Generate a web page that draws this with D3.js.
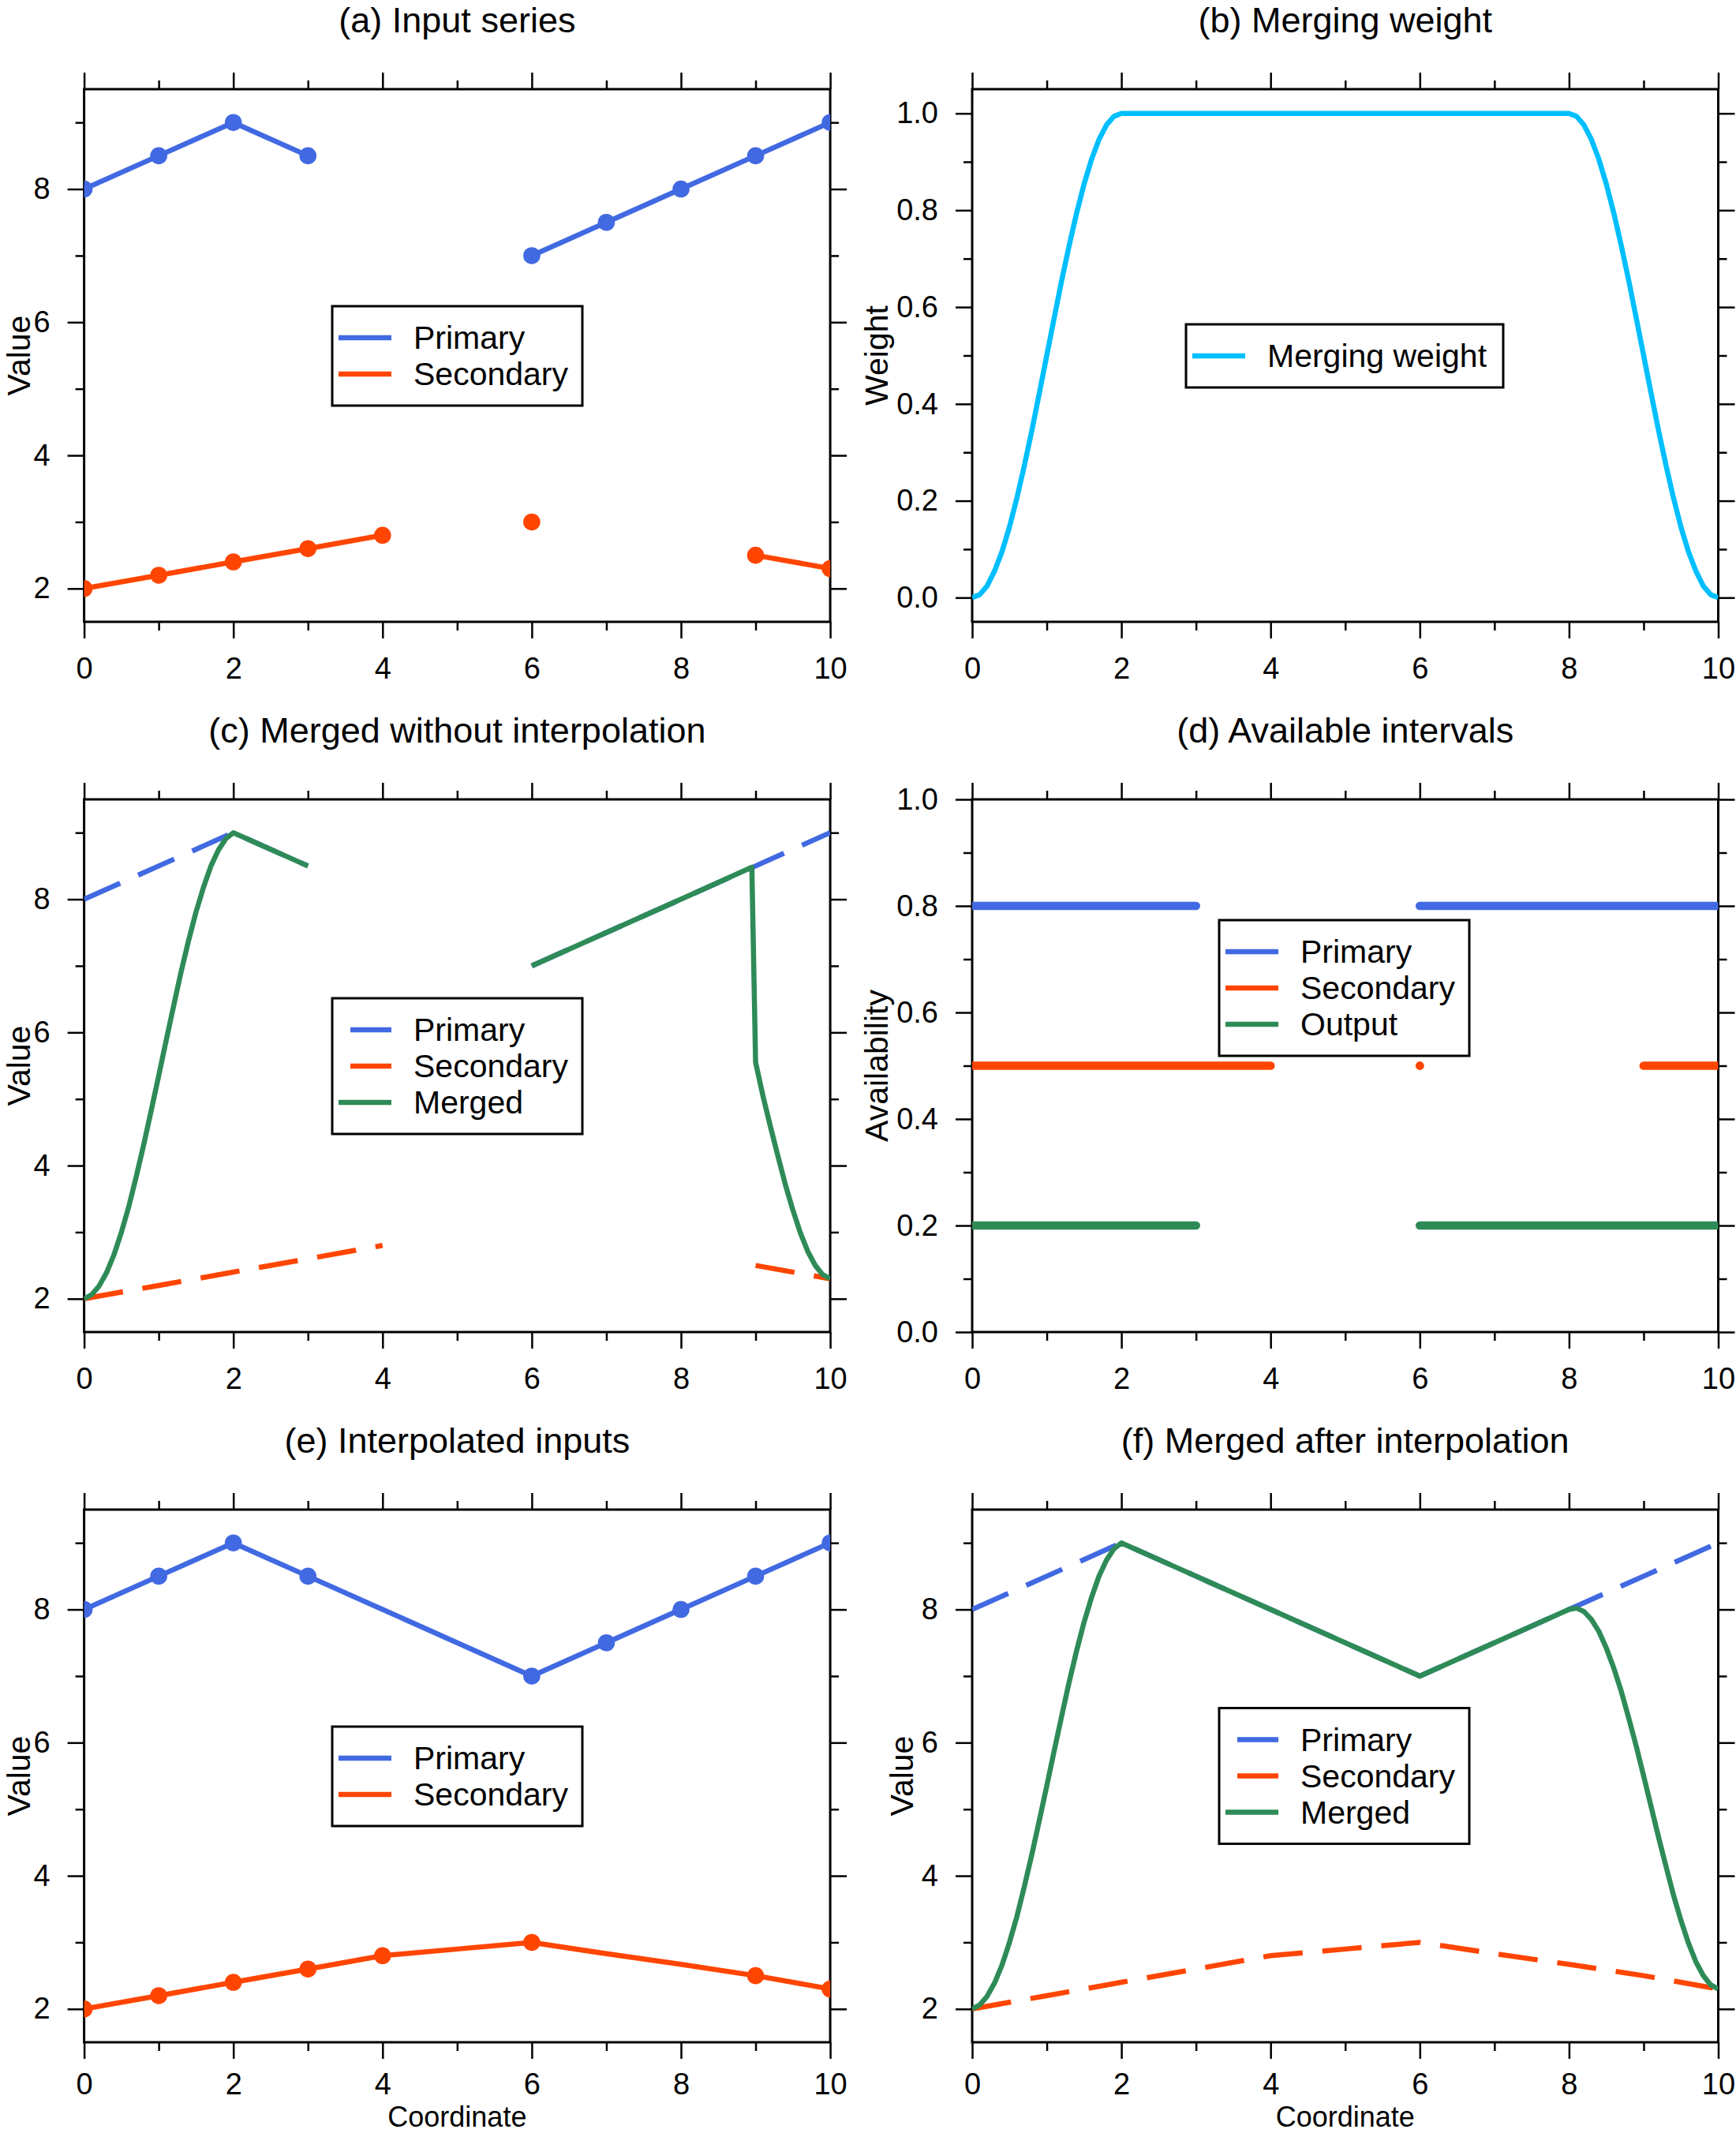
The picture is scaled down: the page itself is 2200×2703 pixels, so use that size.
<!DOCTYPE html>
<html lang="en">
<head>
  <meta charset="UTF-8">
  <title>Merging two series</title>
  <script src="https://d3js.org/d3.v7.min.js"></script>
  <style>
    body { margin: 0; background: #fff; }
    text { font-family: "Liberation Sans", Arial, Helvetica, sans-serif; fill: #000; }
  </style>
</head>
<body>

<div id="chart"></div>

<script>
  // ---- data ----
  const coord = [0, 1, 2, 3, 4, 5, 6, 7, 8, 9, 10];
  const primaryRaw = [8, 8.5, 9, 8.5, null, null, 7, 7.5, 8, 8.5, 9];
  const secondaryRaw = [2, 2.2, 2.4, 2.6, 2.8, null, 3, null, null, 2.5, 2.3];
  const primaryInterp = [8, 8.5, 9, 8.5, 8, 7.5, 7, 7.5, 8, 8.5, 9];
  const secondaryInterp = [2, 2.2, 2.4, 2.6, 2.8, 2.9, 3, 2.83, 2.67, 2.5, 2.3];

  // merging weight (panel b)
  const weightX = [0, 0.1, 0.2, 0.3, 0.4, 0.5, 0.6, 0.7, 0.8, 0.9, 1, 1.1, 1.2, 1.3, 1.4, 1.5, 1.6, 1.7, 1.8, 1.9, 2,
                   8, 8.1, 8.2, 8.3, 8.4, 8.5, 8.6, 8.7, 8.8, 8.9, 9, 9.1, 9.2, 9.3, 9.4, 9.5, 9.6, 9.7, 9.8, 9.9, 10];
  const weightY = [0, 0.006, 0.024, 0.055, 0.095, 0.146, 0.206, 0.273, 0.345, 0.422, 0.5, 0.578, 0.655, 0.727, 0.794, 0.854, 0.905, 0.946, 0.976, 0.994, 1,
                   1, 0.994, 0.976, 0.946, 0.905, 0.854, 0.794, 0.727, 0.655, 0.578, 0.5, 0.422, 0.345, 0.273, 0.206, 0.146, 0.095, 0.055, 0.024, 0.006, 0];

  // merged without interpolation (panel c), null = gap
  const mergedRawX = [0, 0.1, 0.2, 0.3, 0.4, 0.5, 0.6, 0.7, 0.8, 0.9, 1, 1.1, 1.2, 1.3, 1.4, 1.5, 1.6, 1.7, 1.8, 1.9, 2, 3,
                      4.5, 6, 7, 8, 8.95, 9, 9.1, 9.2, 9.3, 9.4, 9.5, 9.6, 9.7, 9.8, 9.9, 10];
  const mergedRawY = [2, 2.06, 2.19, 2.39, 2.66, 3.0, 3.39, 3.84, 4.32, 4.83, 5.35, 5.88, 6.4, 6.91, 7.38, 7.81, 8.18, 8.5, 8.74, 8.91, 9, 8.5,
                      null, 7, 7.5, 8, 8.48, 5.55, 5.04, 4.58, 4.14, 3.71, 3.33, 2.99, 2.71, 2.5, 2.36, 2.3];

  // merged after interpolation (panel f)
  const mergedX = [0, 0.1, 0.2, 0.3, 0.4, 0.5, 0.6, 0.7, 0.8, 0.9, 1, 1.1, 1.2, 1.3, 1.4, 1.5, 1.6, 1.7, 1.8, 1.9, 2,
                   3, 4, 5, 6, 7, 8, 8.1, 8.2, 8.3, 8.4, 8.5, 8.6, 8.7, 8.8, 8.9, 9, 9.1, 9.2, 9.3, 9.4, 9.5, 9.6, 9.7, 9.8, 9.9, 10];
  const mergedY = [2, 2.06, 2.19, 2.39, 2.66, 3.0, 3.39, 3.84, 4.32, 4.83, 5.35, 5.88, 6.4, 6.91, 7.38, 7.81, 8.18, 8.5, 8.74, 8.91, 9,
                   8.5, 8, 7.5, 7, 7.5, 8, 8.02, 7.97, 7.85, 7.67, 7.42, 7.12, 6.77, 6.37, 5.95, 5.5, 5.04, 4.58, 4.14, 3.71, 3.33, 2.99, 2.71, 2.5, 2.36, 2.3];

  // available intervals (panel d)
  const primaryAvail = [[0, 3], [6, 10]];
  const secondaryAvail = [[0, 4], [6, 6], [9, 10]];
  const outputAvail = [[0, 3], [6, 10]];
  const availLevels = [0.8, 0.5, 0.2];

  const valueMajor = [2, 4, 6, 8];
  const valueMinor = [3, 5, 7, 9];
  const fracMajor = [0, 0.2, 0.4, 0.6, 0.8, 1.0];
  const fracMinor = [0.1, 0.3, 0.5, 0.7, 0.9];
  const xMajor = [0, 2, 4, 6, 8, 10];
  const xMinor = [1, 3, 5, 7, 9];

  const BLUE = "#4169e1", RED = "#ff4500", GREEN = "#2e8b57", CYAN = "#00bfff";

  // ---- layout ----
  const pw = 945.5, ph = 675;
  const colX = [106.6, 1232];
  const rowY = [113, 1013, 1913];

  const svg = d3.select("#chart")
    .append("svg")
    .attr("width", 2200)
    .attr("height", 2703);

  let clipId = 0;

  function panel(col, row, yDomain, yMajor, yMinor, yFmt, title, ylab, xlab) {
    const g = svg.append("g")
      .attr("transform", `translate(${colX[col]}, ${rowY[row]})`);

    const x = d3.scaleLinear().domain([0, 10]).range([0, pw]);
    const y = d3.scaleLinear().domain(yDomain).range([ph, 0]);

    // bottom row leaves a little room for the x label under the tick labels
    const bottomPad = xlab ? 18 : 24;

    // major / minor ticks on all four sides, pointing outward
    const axes = [
      [d3.axisBottom, `translate(0, ${ph})`, x, xMajor, xMinor, d3.format("d"), true],
      [d3.axisTop, null, x, xMajor, xMinor, null, false],
      [d3.axisLeft, null, y, yMajor, yMinor, yFmt, true],
      [d3.axisRight, `translate(${pw}, 0)`, y, yMajor, yMinor, null, false]
    ];
    let leftAxis;
    axes.forEach(([fn, tr, sc, maj, min, fmt, labels]) => {
      const major = g.append("g").attr("class", "axis")
        .attr("transform", tr)
        .call(fn(sc).tickValues(maj).tickSizeInner(21).tickSizeOuter(0)
          .tickPadding(fn === d3.axisBottom ? bottomPad : 22)
          .tickFormat(labels ? fmt : ""));
      g.append("g").attr("class", "axis")
        .attr("transform", tr)
        .call(fn(sc).tickValues(min).tickSize(11).tickFormat(""));
      if (fn === d3.axisLeft) leftAxis = major;
    });
    g.selectAll(".axis .domain").remove();
    g.selectAll(".axis line").attr("stroke", "#000").attr("stroke-width", 2.5);
    g.selectAll(".axis text")
      .style("font-size", "38px")
      .attr("fill", "#000");

    // frame
    g.append("rect")
      .attr("width", pw).attr("height", ph)
      .attr("fill", "none").attr("stroke", "#000").attr("stroke-width", 3);

    // title
    g.append("text")
      .attr("x", pw / 2).attr("y", -72)
      .attr("text-anchor", "middle")
      .style("font-size", "45px")
      .text(title);

    // y label, just left of the tick labels (kept inside the page)
    let minX = 0;
    leftAxis.selectAll("text").each(function () {
      minX = Math.min(minX, this.getBBox().x);
    });
    const labX = Math.max(minX - 11, 38 - colX[col]);
    g.append("text")
      .attr("transform", `translate(${labX}, ${ph / 2}) rotate(-90)`)
      .attr("text-anchor", "middle")
      .style("font-size", "41px")
      .text(ylab);

    if (xlab) {
      g.append("text")
        .attr("x", pw / 2).attr("y", ph + 107)
        .attr("text-anchor", "middle")
        .style("font-size", "36px")
        .text(xlab);
    }

    // clipped data layer
    const id = "clip" + (clipId++);
    g.append("clipPath").attr("id", id)
      .append("rect").attr("width", pw).attr("height", ph);
    const plot = g.append("g").attr("clip-path", `url(#${id})`);

    return { g, x, y, plot };
  }

  function drawLine(p, xs, ys, color, dashed) {
    const line = d3.line()
      .defined(d => d[1] != null)
      .x(d => p.x(d[0]))
      .y(d => p.y(d[1]));
    p.plot.append("path")
      .datum(d3.zip(xs, ys))
      .attr("d", line)
      .attr("fill", "none")
      .attr("stroke", color)
      .attr("stroke-width", 6.5)
      .attr("stroke-linejoin", "round")
      .attr("stroke-dasharray", dashed ? "50,25" : null);
  }

  function drawMarkers(p, xs, ys, color) {
    p.plot.selectAll(null)
      .data(d3.zip(xs, ys).filter(d => d[1] != null))
      .enter()
      .append("circle")
      .attr("cx", d => p.x(d[0]))
      .attr("cy", d => p.y(d[1]))
      .attr("r", 10.8)
      .attr("fill", color);
  }

  function legend(p, left, top, width, items) {
    const lg = p.g.append("g").attr("transform", `translate(${left}, ${top})`);
    lg.append("rect")
      .attr("width", width)
      .attr("height", 80 + (items.length - 1) * 46)
      .attr("fill", "#fff")
      .attr("stroke", "#000")
      .attr("stroke-width", 3);
    const row = lg.selectAll(".item")
      .data(items)
      .enter()
      .append("g")
      .attr("transform", (d, i) => `translate(0, ${40 + i * 46})`);
    row.append("line")
      .attr("x1", 8).attr("x2", 75)
      .attr("stroke", d => d.color)
      .attr("stroke-width", 6.5)
      .attr("stroke-dasharray", d => d.dashed ? "0,15,52,25" : null);
    row.append("text")
      .attr("x", 103)
      .attr("dy", "0.35em")
      .style("font-size", "41px")
      .text(d => d.label);
  }

  // (a) Input series
  const pa = panel(0, 0, [1.5, 9.5], valueMajor, valueMinor, d3.format("d"), "(a) Input series", "Value");
  drawLine(pa, coord, primaryRaw, BLUE);
  drawLine(pa, coord, secondaryRaw, RED);
  drawMarkers(pa, coord, primaryRaw, BLUE);
  drawMarkers(pa, coord, secondaryRaw, RED);
  legend(pa, 314.4, 275, 317, [
    { label: "Primary", color: BLUE },
    { label: "Secondary", color: RED }
  ]);

  // (b) Merging weight
  const pb = panel(1, 0, [-0.05, 1.05], fracMajor, fracMinor, d3.format(".1f"), "(b) Merging weight", "Weight");
  drawLine(pb, weightX, weightY, CYAN);
  legend(pb, 271, 298, 402, [
    { label: "Merging weight", color: CYAN }
  ]);

  // (c) Merged without interpolation
  const pc = panel(0, 1, [1.5, 9.5], valueMajor, valueMinor, d3.format("d"), "(c) Merged without interpolation", "Value");
  drawLine(pc, coord, primaryRaw, BLUE, true);
  drawLine(pc, coord, secondaryRaw, RED, true);
  drawLine(pc, mergedRawX, mergedRawY, GREEN);
  legend(pc, 314.4, 252, 317, [
    { label: "Primary", color: BLUE, dashed: true },
    { label: "Secondary", color: RED, dashed: true },
    { label: "Merged", color: GREEN }
  ]);

  // (d) Available intervals
  const pd = panel(1, 1, [0, 1], fracMajor, fracMinor, d3.format(".1f"), "(d) Available intervals", "Availability");
  [[primaryAvail, BLUE], [secondaryAvail, RED], [outputAvail, GREEN]].forEach(([spans, color], i) => {
    const lvl = availLevels[i];
    spans.forEach(([a, b]) => {
      if (a === b) {
        pd.plot.append("circle")
          .attr("cx", pd.x(a)).attr("cy", pd.y(lvl))
          .attr("r", 5.4).attr("fill", color);
      } else {
        pd.plot.append("line")
          .attr("x1", pd.x(a)).attr("x2", pd.x(b))
          .attr("y1", pd.y(lvl)).attr("y2", pd.y(lvl))
          .attr("stroke", color)
          .attr("stroke-width", 10.7)
          .attr("stroke-linecap", "round");
      }
    });
  });
  legend(pd, 313, 153, 317, [
    { label: "Primary", color: BLUE },
    { label: "Secondary", color: RED },
    { label: "Output", color: GREEN }
  ]);

  // (e) Interpolated inputs
  const pe = panel(0, 2, [1.5, 9.5], valueMajor, valueMinor, d3.format("d"), "(e) Interpolated inputs", "Value", "Coordinate");
  drawLine(pe, coord, primaryInterp, BLUE);
  drawLine(pe, coord, secondaryInterp, RED);
  drawMarkers(pe, coord, primaryRaw, BLUE);
  drawMarkers(pe, coord, secondaryRaw, RED);
  legend(pe, 314.4, 275, 317, [
    { label: "Primary", color: BLUE },
    { label: "Secondary", color: RED }
  ]);

  // (f) Merged after interpolation
  const pf = panel(1, 2, [1.5, 9.5], valueMajor, valueMinor, d3.format("d"), "(f) Merged after interpolation", "Value", "Coordinate");
  drawLine(pf, coord, primaryInterp, BLUE, true);
  drawLine(pf, coord, secondaryInterp, RED, true);
  drawLine(pf, mergedX, mergedY, GREEN);
  legend(pf, 313, 251.5, 317, [
    { label: "Primary", color: BLUE, dashed: true },
    { label: "Secondary", color: RED, dashed: true },
    { label: "Merged", color: GREEN }
  ]);
</script>

</body>
</html>
